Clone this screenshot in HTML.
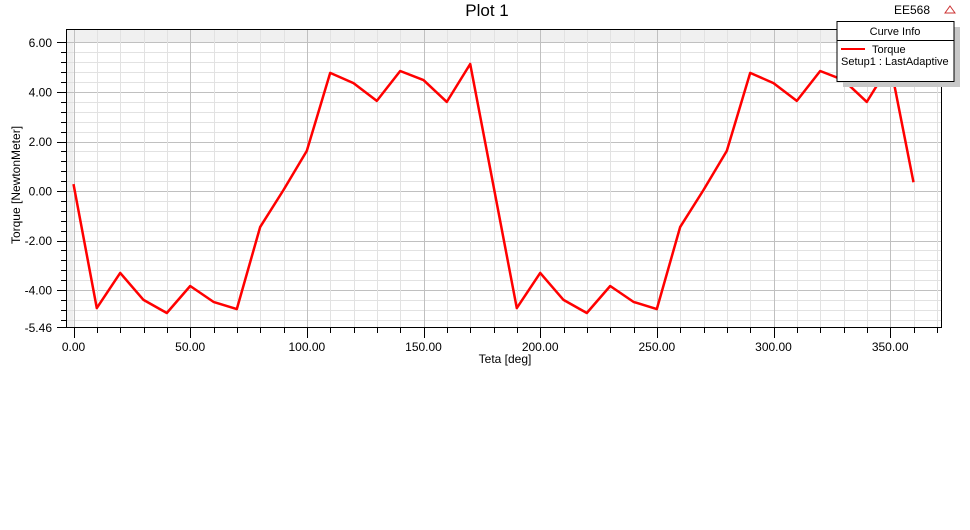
<!DOCTYPE html>
<html><head><meta charset="utf-8"><style>
body{margin:0;background:#fff;width:970px;height:525px;overflow:hidden;font-family:"Liberation Sans",Arial,sans-serif}
</style></head><body>
<svg id="chart" width="970" height="525" xmlns="http://www.w3.org/2000/svg" font-family="Liberation Sans, Arial, sans-serif">
<text x="487" y="16" font-size="17" text-anchor="middle">Plot 1</text>
<text x="912" y="14" font-size="12" text-anchor="middle">EE568</text>
<g><path d="M950 6 L955 13 L945 13 Z" fill="none" stroke="#c33" stroke-width="1"/></g>
<rect x="66.5" y="29.5" width="875" height="298" fill="#fff" stroke="#000"/>
<g id="grid"></g>
<g id="axes"></g>
<path id="line" fill="none" stroke="#f00" stroke-width="2.5" stroke-linejoin="round"/>
<text x="505" y="363" font-size="12" text-anchor="middle">Teta [deg]</text>
<text transform="translate(20,185) rotate(-90)" font-size="12" text-anchor="middle">Torque [NewtonMeter]</text>
<g>
<rect x="843" y="27" width="117" height="60" fill="#c8c8c8"/>
<rect x="837" y="21.5" width="117" height="60" fill="#fff" stroke="#000"/>
<text x="895" y="35" font-size="11" text-anchor="middle">Curve Info</text>
<line x1="837" y1="40.5" x2="954" y2="40.5" stroke="#000"/>
<line x1="841" y1="49" x2="865" y2="49" stroke="#f00" stroke-width="2"/>
<text x="872" y="53" font-size="11">Torque</text>
<text x="841" y="65" font-size="11">Setup1 : LastAdaptive</text>
</g>
</svg>
<script>
const xs=[0,10,20,30,40,50,60,70,80,90,100,110,120,130,140,150,160,170,180,190,200,210,220,230,240,250,260,270,280,290,300,310,320,330,340,350,360];
const torque=[0.28,-4.73,-3.31,-4.4,-4.93,-3.84,-4.48,-4.77,-1.45,0.04,1.62,4.77,4.36,3.64,4.85,4.48,3.6,5.13,0.2,-4.73,-3.31,-4.4,-4.93,-3.84,-4.48,-4.77,-1.45,0.04,1.62,4.77,4.36,3.64,4.85,4.48,3.6,5.13,0.35];
const yTicks=[6,4,2,0,-2,-4];
const yTickLabels=["6.00","4.00","2.00","0.00","-2.00","-4.00"];
const xTicks=[0,50,100,150,200,250,300,350];
const xTickLabels=["0.00","50.00","100.00","150.00","200.00","250.00","300.00","350.00"];
const X=v=>73.5+v*(913.5-73.5)/360;
const Y=v=>42.5+(6-v)*24.75;
const NS="http://www.w3.org/2000/svg";
function mk(t,a,p){const e=document.createElementNS(NS,t);for(const k in a)e.setAttribute(k,a[k]);p.appendChild(e);return e;}
const grid=document.getElementById('grid'),axes=document.getElementById('axes');
// gray bands outside range
let b=mk('rect',{x:67,y:30,width:874,height:Y(6)-30,fill:'#f0f0f0'},grid);


b=mk('rect',{x:67,y:30,width:X(0)-67,height:297,fill:'#f0f0f0'},grid);


for(let v=-5.2;v<=6.01;v+=0.4){const y=Math.round(Y(v))+0.5;const major=Math.abs(v-Math.round(v/2)*2)<0.01;
 let l=mk('line',{x1:67,x2:941,y1:y,y2:y,stroke:major?'#c0c0c0':'#e2e2e2'},grid);
 
 
 let t=mk('line',{x1:major?57:61,x2:66,y1:y,y2:y,stroke:'#000'},axes);
 
 }
for(let v=0;v<=370;v+=10){const x=Math.round(X(v))+0.5;if(x>941)break;const major=v%50===0;
 let l=mk('line',{x1:x,x2:x,y1:30,y2:327,stroke:major?'#c0c0c0':'#e2e2e2'},grid);
 
 
 let t=mk('line',{x1:x,x2:x,y1:328,y2:major?338:333,stroke:'#000'},axes);
 
 }
let bt=mk('line',{x1:57,x2:66,y1:327.5,y2:327.5,stroke:'#000'},axes);


yTicks.forEach((v,i)=>{const t=mk('text',{x:52,y:Y(v)+4.5,'font-size':12,'text-anchor':'end'},axes);t.textContent=yTickLabels[i];
 
 });
let mn=mk('text',{x:52,y:332,'font-size':12,'text-anchor':'end'},axes);mn.textContent='-5.46';


xTicks.forEach((v,i)=>{const t=mk('text',{x:X(v),y:351,'font-size':12,'text-anchor':'middle'},axes);t.textContent=xTickLabels[i];
 
 });
document.getElementById('line').setAttribute('d',xs.map((x,i)=>(i?'L':'M')+X(x).toFixed(1)+' '+Y(torque[i]).toFixed(1)).join(' '));
</script>
</body></html>
